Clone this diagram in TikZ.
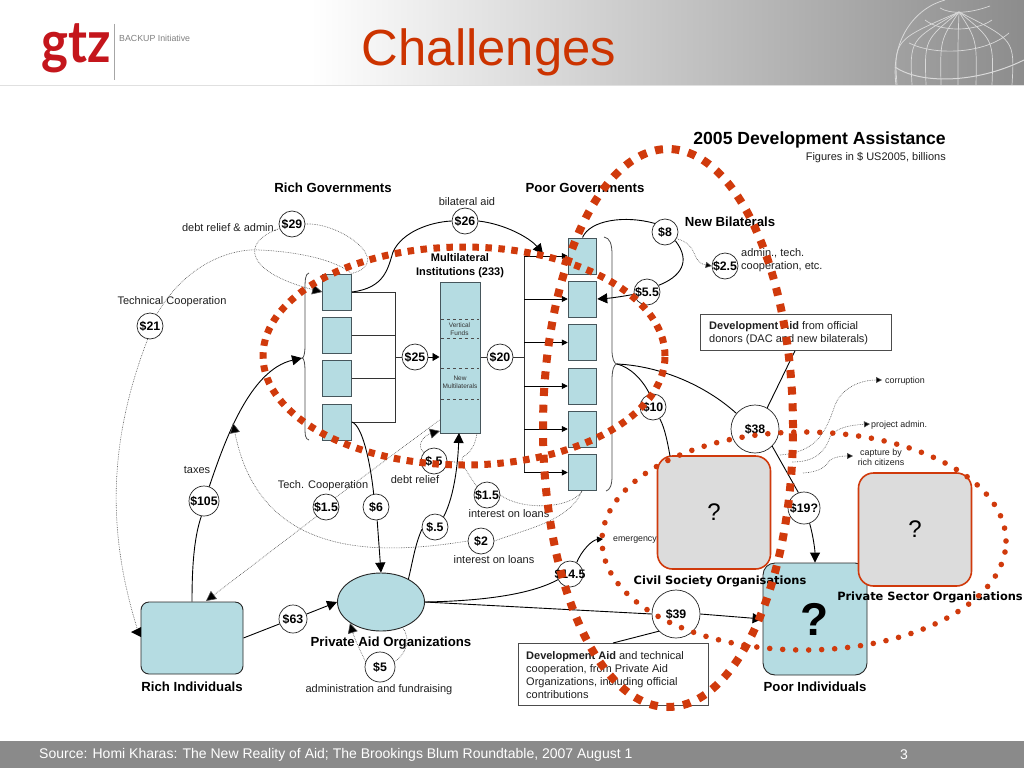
\documentclass[tikz,border=0pt]{standalone}
\usepackage{fontspec}
\setmainfont{Liberation Sans}
\newfontfamily\logofont{Lato}
\newfontfamily\widefont{DejaVu Sans}
\usetikzlibrary{arrows.meta,shapes.geometric}
\definecolor{boxblue}{HTML}{B5DCE2}
\definecolor{boxline}{HTML}{46565C}
\definecolor{hred}{HTML}{D03A0C}
\definecolor{titlered}{HTML}{CC3300}
\definecolor{logored}{HTML}{C4161C}
\definecolor{grayfill}{HTML}{DCDCDC}
\definecolor{dotgray}{HTML}{505050}
\newcommand{\fsz}[2]{\fontsize{#1}{#2}\selectfont}
\tikzset{
  x=1pt,y=-1pt,
  lbl/.style={inner sep=0pt,yshift=-1pt,font=\fsz{11}{13},text=black!88,align=left},
  head/.style={inner sep=0pt,yshift=-1pt,font=\fsz{13.2}{15}\bfseries,align=center},
  circ/.style={circle,draw=black!85,line width=.7pt,fill=white,inner sep=-9pt,minimum size=#1,font=\fsz{12.3}{13}\bfseries},
  circ/.default=26pt,
  rbox/.style={draw=boxline,line width=1pt,fill=boxblue,minimum width=28.5pt,minimum height=36pt,inner sep=0pt},
  grayb/.style={draw=hred,line width=1.6pt,fill=grayfill,rounded corners=15pt,minimum width=113pt,minimum height=113pt,inner sep=0pt,font=\fsz{24}{28}},
  note/.style={draw=black!70,line width=.8pt,fill=white,inner sep=0pt,anchor=north west},
  wire/.style={draw=black,line width=.9pt},
  bus/.style={draw=black!80,line width=1pt},
  bigarrow/.style={wire,-{Triangle[length=10pt,width=10pt]}},
  midarrow/.style={wire,-{Triangle[length=6pt,width=6pt]}},
  dotline/.style={draw=dotgray,line width=.6pt,dash pattern=on .7pt off 1pt},
  dotarrow/.style={dotline,-{Triangle[length=10pt,width=10pt,fill=black,sep=0pt]}},
  dotsmall/.style={dotline,-{Triangle[length=6pt,width=6pt,fill=black]}},
  brace/.style={draw=black!70,line width=.8pt},
}
\begin{document}
\begin{tikzpicture}
\useasboundingbox (0,0) rectangle (1024,768);
\fill[white] (0,0) rectangle (1024,768);
% header
\shade[left color=white,right color=black!45,shading angle=90] (310,0) rectangle (1024,85);
\fill[black!12] (0,85) rectangle (1024,85.8);
\begin{scope}
\clip (880,0) rectangle (1024,85);
\foreach \bx in {897,912,926,941,958,976,992,1012}
  \draw[white!85!black,line width=.7pt] (959,12) .. controls ({959+(\bx-959)*1.05},40) .. (\bx,85);
\draw[white!85!black,line width=.8pt] (896,85) .. controls (890,40) and (915,8) .. (945,0);
\draw[white!85!black,line width=.7pt] (940,8) .. controls (950,14) and (968,14) .. (990,6);
\draw[white!85!black,line width=.7pt] (925,20) .. controls (940,32) and (975,32) .. (992,20);
\draw[white!85!black,line width=.7pt] (909,43) .. controls (935,56) and (985,54) .. (1009,33);
\draw[white!85!black,line width=1pt] (895,67) .. controls (920,84) and (975,84) .. (1024,60);
\end{scope}
\node[inner sep=0pt,text=logored,font=\fsz{58}{60}\logofont\bfseries,anchor=base west] (logo) at (41,63) {\scalebox{.88}[1]{gtz}};
\draw[black!35,line width=.6pt] (114.5,24) -- (114.5,80);
\node[inner sep=0pt,anchor=west,text=black!50,font=\fsz{8.8}{10}] (backup) at (119,38) {BACKUP Initiative};
\node[inner sep=0pt,text=titlered,font=\fsz{50.8}{56}] (title) at (489,52) {Challenges};
% footer
\fill[black!46] (0,741) rectangle (1024,768);
\node[inner sep=0pt,anchor=west,text=white,font=\fsz{14}{16}] (source) at (39,755) {Source: Homi Kharas: The New Reality of Aid; The Brookings Blum Roundtable, 2007 August 1};
\node[inner sep=0pt,text=white,font=\fsz{14}{16}] (page) at (904,755) {3};
% titles
\node[inner sep=0pt,anchor=east,font=\fsz{17.6}{20}\bfseries] (t1) at (946,140) {2005 Development Assistance};
\node[lbl,anchor=east] (t2) at (946,156.5) {Figures in \$ US2005, billions};
\node[head] (rg) at (333,187) {Rich Governments};
\node[head] (pg) at (585,187) {Poor Governments};
\node[head] (nb) at (730,221) {New Bilaterals};
\node[head,font=\fsz{11}{14}\bfseries] (mil) at (460,265) {Multilateral\\Institutions (233)};
% boxes
\node[rbox] (rb1) at (337,292) {};
\node[rbox] (rb2) at (337,335) {};
\node[rbox] (rb3) at (337,378.5) {};
\node[rbox] (rb4) at (337,422) {};
\node[rbox] (pb1) at (582.5,256) {};
\node[rbox] (pb2) at (582.5,299) {};
\node[rbox] (pb3) at (582.5,342.5) {};
\node[rbox] (pb4) at (582.5,386) {};
\node[rbox] (pb5) at (582.5,429) {};
\node[rbox] (pb6) at (582.5,472.5) {};
\node[rbox,minimum width=40pt,minimum height=151pt] (mi) at (460,357.5) {};
\draw[black!70,line width=.5pt,dashed] (441,319) -- (479,319);
\draw[black!70,line width=.5pt,dashed] (441,338) -- (479,338);
\draw[black!70,line width=.5pt,dashed] (441,368) -- (479,368);
\draw[black!70,line width=.5pt,dashed] (441,399) -- (479,399);
\node[inner sep=0pt,align=center,text=black!80,font=\fsz{6.5}{8}] (vf) at (459.5,329) {Vertical\\Funds};
\node[inner sep=0pt,align=center,text=black!80,font=\fsz{6.5}{8}] (nm) at (460,382.5) {New\\Multilaterals};
\node[draw=black!85,line width=.9pt,fill=boxblue,rounded corners=8pt,minimum width=102pt,minimum height=72pt,inner sep=0pt] (rich) at (192,638) {};
\node[head] (richl) at (192,686) {Rich Individuals};
\node[ellipse,draw=black!85,line width=.9pt,fill=boxblue,minimum width=87pt,minimum height=58pt,inner sep=0pt] (pao) at (381,602) {};
\node[head] (paol) at (391,642) {Private Aid Organizations};
\node[draw=black!85,line width=.9pt,fill=boxblue,rounded corners=12pt,minimum width=104pt,minimum height=112pt,inner sep=0pt,font=\fsz{46}{50}\bfseries] (poor) at (815,619) {?};
\node[head] (poorl) at (815,686) {Poor Individuals};
\node[grayb] (civil) at (714,512.5) {?};
\node[grayb] (priv) at (915,529.5) {?};
\node[inner sep=0pt,font=\fsz{11.4}{13}\widefont\bfseries] (civill) at (720,581) {Civil Society Organisations};
\node[inner sep=0pt,font=\fsz{11.4}{13}\widefont\bfseries] (privl) at (930,597) {Private Sector Organisations};
% notes
\node[note,text width=191pt,minimum height=36pt] (n1) at (700,314) {};
\node[lbl,anchor=west] (n1t) at (709,332) {\textbf{Development Aid} from official\\donors (DAC and new bilaterals)};
\node[note,text width=190pt,minimum height=62pt] (n2) at (518,643) {};
\node[lbl,anchor=west] (n2t) at (526,674) {\textbf{Development Aid} and technical\\cooperation, from Private Aid\\Organizations, including official\\contributions};
% circles
\node[circ] (c29) at (292,224) {\$29};
\node[circ] (c26) at (465,221) {\$26};
\node[circ] (c8) at (665,232) {\$8};
\node[circ] (c55) at (647,292) {\$5.5};
\node[circ] (c25b) at (725,266) {\$2.5};
\node[circ] (c21) at (150,326) {\$21};
\node[circ] (c25) at (415,357) {\$25};
\node[circ] (c20) at (500,357) {\$20};
\node[circ] (c10) at (653,407) {\$10};
\node[circ=48pt] (c38) at (755,429) {\$38};
\node[circ=32pt] (c19) at (804,508) {\$19?};
\node[circ=30pt] (c105) at (204,501) {\$105};
\node[circ] (c15a) at (326,507) {\$1.5};
\node[circ] (c6) at (376,507) {\$6};
\node[circ] (c05a) at (434,461) {\$.5};
\node[circ] (c15b) at (487,495) {\$1.5};
\node[circ] (c05b) at (435,527) {\$.5};
\node[circ] (c2) at (481,541) {\$2};
\node[circ] (c145) at (570,574) {\$14.5};
\node[circ=48pt] (c39) at (676,614) {\$39};
\node[circ=28pt] (c63) at (293,619) {\$63};
\node[circ=30pt] (c5) at (380,667) {\$5};
% labels
\node[lbl] (l1) at (467,201) {bilateral aid};
\node[lbl,anchor=east] (l2) at (277,227) {debt relief \& admin.};
\node[lbl] (l3) at (172,301) {Technical Cooperation};
\node[lbl,anchor=west] (l4) at (741,259.5) {admin., tech.\\cooperation, etc.};
\node[lbl] (l5) at (197,469) {taxes};
\node[lbl] (l6) at (323,485) {Tech. Cooperation};
\node[lbl] (l7) at (415,479) {debt relief};
\node[lbl] (l8) at (509,513) {interest on loans};
\node[lbl] (l9) at (494,559) {interest on loans};
\node[lbl] (l10) at (379,689) {administration and fundraising};
\node[lbl,anchor=west,font=\fsz{8.8}{10}] (emer) at (613,539) {emergency};
\node[lbl,anchor=west,font=\fsz{8.9}{10}] (corr) at (885,380) {corruption};
\node[lbl,anchor=west,font=\fsz{8.9}{10}] (proj) at (871,424) {project admin.};
\node[lbl,font=\fsz{8.9}{10},align=center] (capt) at (881,456) {capture by\\rich citizens};
% coordinates
\coordinate (busL) at (395,357);
\coordinate (busR) at (524,357);
\coordinate (lbrace) at (302,358);
\coordinate (rbrace) at (617,364);
\coordinate (bilatend) at (543,254);
\coordinate (taxarrow) at (233,423);
\coordinate (mibl) at (440,431);
\coordinate (mibr) at (477,433);
\coordinate (mib) at (459,433);
\coordinate (dbtend) at (462,463);
\coordinate (emend) at (603,539);
\coordinate (carr1) at (882,380);
\coordinate (carr2) at (870,424);
\coordinate (carr3) at (853,456);
\coordinate (o38a) at (780,455);
\coordinate (o38b) at (792,462);
\coordinate (o38c) at (803,473);
\coordinate (pbb) at (582,491);
\coordinate (richarr) at (206,601);
% braces
\draw[brace] (309,273) .. controls (305,274) and (305,280) .. (305,292) -- (305,345) .. controls (305,353) and (304,358) .. (lbrace) .. controls (304,358) and (305,363) .. (305,372) -- (305,425) .. controls (305,435) and (305,439) .. (309,440);
\draw[brace] (604,237) .. controls (610,238) and (612,244) .. (612,255) -- (612,350) .. controls (612,358) and (614,364) .. (rbrace) .. controls (614,364) and (612,370) .. (612,380) -- (612,476) .. controls (612,485) and (610,490) .. (606,491);
% buses
\draw[bus] (rb1.east) -- (busL |- rb1.east) -- (busL |- rb4.east) -- (rb4.east);
\draw[bus] (rb2.east) -- (busL |- rb2.east);
\draw[bus] (rb3.east) -- (busL |- rb3.east);
\draw[bus] (busL) -- (c25.west);
\draw[midarrow,-{Triangle[length=7pt,width=8pt]}] (c25.east) -- (mi.west |- c25.east);
\draw[bus] (mi.east |- c20.west) -- (c20.west);
\draw[bus] (c20.east) -- (busR);
\draw[bus] (busR |- pb1.west) -- (busR |- pb6.west);
\foreach \b in {pb1,pb2,pb3,pb4,pb5,pb6}
  \draw[midarrow] (busR |- \b.west) -- (\b.west);
% solid connectors
\draw[wire] (rb1.east) .. controls (385,288) and (388,268) .. (393,252) .. controls (402,232) and (430,222) .. (c26.west);
\draw[bigarrow] (c26.east) .. controls (505,224) and (530,238) .. (bilatend);
\draw[wire] (pb1.north) .. controls (590,220) and (625,215) .. (c8.140);
\draw[wire] (c8.-40) .. controls (692,262) and (680,277) .. (c55.30);
\draw[bigarrow] (c55.190) .. controls (625,296) and (612,298) .. (pb2.east);
\draw[wire] (rbrace) .. controls (660,366) and (705,385) .. (c38.140);
\draw[wire] (rbrace) .. controls (630,367) and (643,380) .. (c10.105);
\draw[wire] (c10.-60) .. controls (665,428) and (668,445) .. (670,456);
\draw[wire] (c38.60) -- (n1.south -| 795,0);
\draw[wire] (c38.-45) -- (c19.110);
\draw[bigarrow] (c19.-70) .. controls (813,535) and (815,550) .. (poor.north);
\draw[wire] (rich.north) .. controls (192,560) and (195,535) .. (c105.-100);
\draw[bigarrow] (c105.70) .. controls (225,440) and (250,370) .. (lbrace);
\draw[wire] (rb4.east) .. controls (362,425) and (370,460) .. (c6.100);
\draw[bigarrow] (c6.-85) -- (pao.north);
\draw[wire] (rich.east) -- (c63.200);
\draw[bigarrow] (c63.20) -- (pao.west);
\draw[wire] (pao.east) .. controls (480,601) and (530,595) .. (c145.-155);
\draw[midarrow] (c145.60) .. controls (582,550) and (592,540) .. (emend);
\draw[wire] (pao.east) -- (c39.180);
\draw[bigarrow] (c39.0) -- (poor.west);
\draw[wire] (c39.-135) -- (613,643);
\draw[wire] (pao.40) .. controls (413,560) and (415,545) .. (c05b.190);
\draw[bigarrow] (c05b.50) .. controls (455,495) and (458,460) .. (mib);
% dotted connectors
\draw[dotline] (c29.east) .. controls (340,222) and (395,262) .. (rb1.north east);
\draw[dotarrow] (c29.200) .. controls (240,242) and (245,272) .. (rb1.west);
\draw[dotline] (c21.60) .. controls (185,265) and (230,248) .. (260,250) .. controls (300,252) and (335,260) .. (rb1.north east);
\draw[dotline] (c21.-100) .. controls (105,450) and (110,540) .. (137,628);
\fill[black] (131,632) -- (141,627) -- (141,637) -- cycle;
\draw[dotsmall] (c8.-30) .. controls (700,245) and (690,262) .. (c25b.180);
\draw[dotsmall] (o38a) .. controls (815,452) and (825,435) .. (835,405) .. controls (842,388) and (860,380) .. (carr1);
\draw[dotsmall] (o38b) .. controls (815,462) and (825,452) .. (830,437) .. controls (835,428) and (850,425) .. (carr2);
\draw[dotsmall] (o38c) .. controls (818,472) and (825,468) .. (830,460) .. controls (836,456) and (845,456) .. (carr3);
\draw[dotline] (mi.west |- 0,420) -- (c15a.45);
\draw[dotarrow] (c15a.-135) -- (richarr);
\draw[dotarrow] (c05a.140) .. controls (415,445) and (425,435) .. (mibl);
\draw[dotline] (c05a.east) -- (dbtend);
\draw[dotline] (c15b.140) .. controls (462,465) and (458,458) .. (466,455) .. controls (472,450) and (475,445) .. (mibr);
\draw[dotline] (c15b.east) .. controls (520,510) and (570,510) .. (pbb);
\draw[dotline] (c2.east) .. controls (530,528) and (570,520) .. (pbb);
\draw[dotarrow] (c2.west) .. controls (380,555) and (260,560) .. (taxarrow);
\draw[dotarrow] (c5.160) .. controls (360,650) and (355,640) .. (350,623);
\draw[dotline] (c5.20) .. controls (405,655) and (412,640) .. (pao.-50);
% highlight rings
\draw[hred,line width=7pt,dash pattern=on 6.5pt off 6.5pt] (464,356) ellipse [x radius=201pt,y radius=109pt];
\draw[hred,line width=8pt,dash pattern=on 8pt off 8.7pt] (668,428) ellipse [x radius=125pt,y radius=279pt];
\draw[hred,line width=5.6pt,line cap=round,dash pattern=on 0pt off 13pt] (804,541) ellipse [x radius=202pt,y radius=109pt];
\end{tikzpicture}
\end{document}
